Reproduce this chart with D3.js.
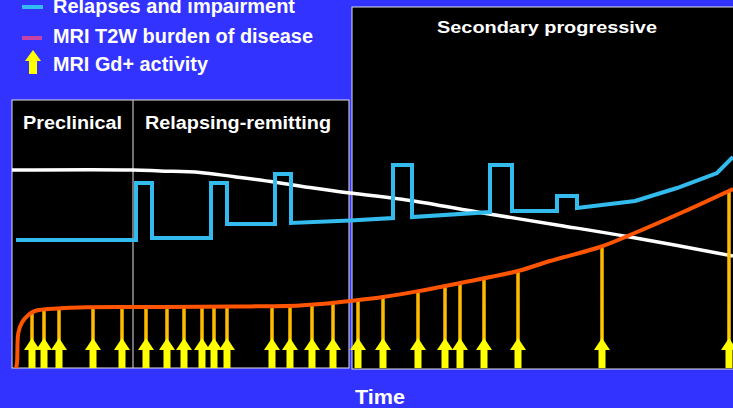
<!DOCTYPE html>
<html>
<head>
<meta charset="utf-8">
<script src="https://cdn.jsdelivr.net/npm/d3@7"></script>
<style>
html,body{margin:0;padding:0;background:#3333ff;overflow:hidden;}
svg{display:block;}
text{font-family:"Liberation Sans",Arial,Helvetica,sans-serif;font-weight:bold;fill:#ffffff;}
</style>
</head>
<body>
<script>
// ---- data (time units along x, level units along y) ----
const impairmentTime  = [0, 121, 148, 188, 221, 263, 298, 321, 338, 398, 471, 548, 618, 721];
const impairmentLevel = [99, 99, 98.5, 97.8, 95.7, 92.9, 90.2, 88.6, 87.5, 83.8, 77.5, 71.3, 65.5, 56];

const relapseTime  = [4, 124, 124, 140, 140, 199, 199, 215, 215, 263, 263, 279, 279, 338, 381, 381, 400, 400, 478, 478, 500, 500, 545, 545, 565, 565, 623, 665, 705, 721];
const relapseLevel = [64, 64, 92.5, 92.5, 65, 65, 92.5, 92.5, 72, 72, 97, 97, 72.5, 73.8, 75, 101.5, 101.5, 75.5, 78, 101.5, 101.5, 78.5, 78.5, 86, 86, 80, 83.5, 90, 97.5, 105.5];

const burdenTime  = [4, 5, 6.3, 9.7, 16.3, 23, 36, 68, 121, 188, 238, 288, 318, 338, 371, 405, 448, 506, 538, 588, 618, 671, 721];
const burdenLevel = [0, 2.5, 17.5, 22.5, 26.5, 28.5, 29.5, 30.3, 30.5, 30.6, 30.8, 31.3, 32.4, 33.5, 35.5, 38.3, 42.5, 48.5, 53.5, 60.5, 66.5, 78, 89.5];

const gdTimes = [20, 32, 47, 81, 110, 134, 155, 172, 190, 202, 215, 260, 278, 300, 321, 346, 371, 406, 433, 448, 472, 506, 590, 717];

const legendLabels = ["Relapses and impairment", "MRI T2W burden of disease", "MRI Gd+ activity"];
const phaseLabels  = ["Preclinical", "Relapsing-remitting", "Secondary progressive"];
const phaseStarts  = [0, 121, 340];
const axisTitle = "Time";

// ---- layout ----
const W = 733, H = 408;
const svg = d3.select("body").append("svg").attr("width", W).attr("height", H);
svg.append("rect").attr("width", W).attr("height", H).attr("fill", "#3333ff");

const x = d3.scaleLinear().domain([0, 721]).range([12, 733]);
const y = d3.scaleLinear().domain([0, 100]).range([368, 168]);

// panels
const border = "#e0e0e0";
svg.append("rect").attr("x", x(phaseStarts[0])).attr("y", 100)
  .attr("width", x(337) - x(0)).attr("height", 268)
  .attr("fill", "#000").attr("stroke", border).attr("stroke-width", 1);
svg.append("line").attr("x1", x(phaseStarts[1])).attr("x2", x(phaseStarts[1]))
  .attr("y1", 100).attr("y2", 368).attr("stroke", border).attr("stroke-width", 1);
svg.append("rect").attr("x", x(phaseStarts[2])).attr("y", 7)
  .attr("width", 420).attr("height", 362)
  .attr("fill", "#000").attr("stroke", border).attr("stroke-width", 1);

// phase titles
svg.append("text").attr("x", 23).attr("y", 129).attr("font-size", 18)
  .attr("textLength", 99).attr("lengthAdjust", "spacingAndGlyphs").text(phaseLabels[0]);
svg.append("text").attr("x", 145).attr("y", 129).attr("font-size", 18)
  .attr("textLength", 186).attr("lengthAdjust", "spacingAndGlyphs").text(phaseLabels[1]);
svg.append("text").attr("x", 437).attr("y", 33).attr("font-size", 17)
  .attr("textLength", 220).attr("lengthAdjust", "spacingAndGlyphs").text(phaseLabels[2]);

// helper
const zip = (a, b) => a.map((d, i) => [d, b[i]]);
const interp = (t) => {
  for (let i = 1; i < burdenTime.length; i++) {
    if (t <= burdenTime[i]) {
      const f = (t - burdenTime[i - 1]) / (burdenTime[i] - burdenTime[i - 1]);
      return burdenLevel[i - 1] + f * (burdenLevel[i] - burdenLevel[i - 1]);
    }
  }
  return burdenLevel[burdenLevel.length - 1];
};

// white impairment line
const smooth = d3.line().x(d => x(d[0])).y(d => y(d[1])).curve(d3.curveCatmullRom.alpha(0.5));
svg.append("path").attr("d", smooth(zip(impairmentTime, impairmentLevel)))
  .attr("fill", "none").attr("stroke", "#ffffff").attr("stroke-width", 3.5);

// Gd+ arrows
const defs = svg.append("defs");
const grad = defs.append("linearGradient").attr("id", "gdg")
  .attr("x1", 0).attr("x2", 0).attr("y1", 0).attr("y2", 1);
grad.append("stop").attr("offset", "0%").attr("stop-color", "#ffb400");
grad.append("stop").attr("offset", "100%").attr("stop-color", "#ffd200");

const arrows = svg.append("g").selectAll("g").data(gdTimes).join("g");
arrows.append("rect")
  .attr("x", d => x(d) - 1.75).attr("width", 3.5)
  .attr("y", d => y(interp(d))).attr("height", d => y(0) - y(interp(d)))
  .attr("fill", "url(#gdg)");
arrows.append("path")
  .attr("d", d => {
    const cx = x(d);
    return `M${cx},338 L${cx + 8},350 L${cx + 3.5},350 L${cx + 3.5},368 L${cx - 3.5},368 L${cx - 3.5},350 L${cx - 8},350 Z`;
  })
  .attr("fill", "#ffff00");

// relapse line
const stepLine = d3.line().x(d => x(d[0])).y(d => y(d[1]));
svg.append("path").attr("d", stepLine(zip(relapseTime, relapseLevel)))
  .attr("fill", "none").attr("stroke", "#33bbee").attr("stroke-width", 4)
  .attr("stroke-linejoin", "miter");

// T2W burden line
svg.append("path").attr("d", smooth(zip(burdenTime, burdenLevel)))
  .attr("fill", "none").attr("stroke", "#ff5500").attr("stroke-width", 4);

// legend
svg.append("line").attr("x1", 22).attr("x2", 43).attr("y1", 7).attr("y2", 7)
  .attr("stroke", "#33bbee").attr("stroke-width", 4);
svg.append("line").attr("x1", 22).attr("x2", 42).attr("y1", 38).attr("y2", 38)
  .attr("stroke", "#c644a8").attr("stroke-width", 4);
svg.append("path").attr("d", "M33,50 L41,61 L37,61 L37,74 L29,74 L29,61 L25,61 Z").attr("fill", "#ffff00");
const legY = [13, 43, 71], legW = [242, 260, 155];
legendLabels.forEach((t, i) => {
  svg.append("text").attr("x", 53).attr("y", legY[i]).attr("font-size", 19.5)
    .attr("textLength", legW[i]).attr("lengthAdjust", "spacingAndGlyphs").text(t);
});

// axis title
svg.append("text").attr("x", 355).attr("y", 404).attr("font-size", 21)
  .attr("textLength", 50).attr("lengthAdjust", "spacingAndGlyphs").text(axisTitle);
</script>
</body>
</html>
